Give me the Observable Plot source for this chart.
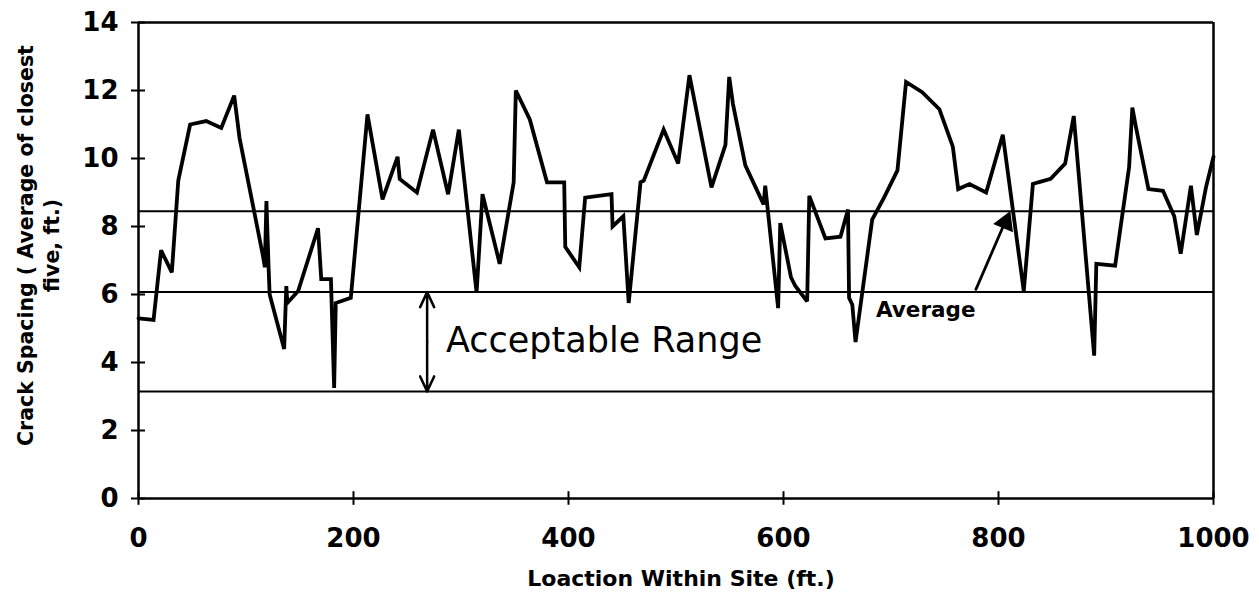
<!DOCTYPE html>
<html><head><meta charset="utf-8">
<script src="https://cdn.jsdelivr.net/npm/d3@7"></script>
<script src="https://cdn.jsdelivr.net/npm/@observablehq/plot@0.6"></script>
<style>body{margin:0;background:#fff} svg{display:block}</style>
</head><body><div id="chart"></div>
<script>
const locationFt = [0,14,21,31,37,48,63,77,89,94,116,117.5,119,121,122,135.5,137.5,138.5,148.5,167,170,179,182,183.5,197.5,213,227,241,243,259,274,288,298,314.5,320,336,349,351,364,380,396,397,410,415.5,440,441,451,456,467,470,488.5,502,512.5,533,546,549.5,553,564.5,581.5,583,595,597,607,611,622,624,639,653,660,661,664,667,682.5,693.5,706,714,729,745,757.5,762.5,773,788.5,804,823.5,832,837,848.5,862,870,889,891,908.5,921.5,924.5,928,939.5,953,963.5,969.5,979,984.5,993,1000];
const spacing = [5.3,5.25,7.3,6.65,9.35,11.0,11.1,10.9,11.85,10.6,7.1,6.8,8.75,6.8,6.0,4.4,6.25,5.75,6.1,7.95,6.45,6.45,3.25,5.75,5.9,11.3,8.8,10.05,9.4,9.0,10.85,8.95,10.85,6.05,8.95,6.9,9.3,12.0,11.15,9.3,9.3,7.4,6.8,8.85,8.95,8.0,8.3,5.75,9.3,9.35,10.85,9.85,12.45,9.15,10.4,12.4,11.6,9.8,8.65,9.2,5.6,8.1,6.5,6.25,5.8,8.9,7.65,7.7,8.5,5.9,5.7,4.6,8.2,8.85,9.65,12.25,11.95,11.45,10.35,9.1,9.25,9.0,10.7,6.1,9.25,9.3,9.4,9.85,11.25,4.2,6.9,6.85,9.75,11.5,10.9,9.1,9.05,8.3,7.2,9.2,7.75,9.15,10.05];
const xTicks = [0,200,400,600,800,1000];
const yTicks = [0,2,4,6,8,10,12,14];
const averageLine = 8.45;
const rangeUpper = 6.07;
const rangeLower = 3.15;

const data = locationFt.map((x, i) => ({x, y: spacing[i]}));
const bold = "DejaVu Sans";
const rangeMid = (rangeUpper + rangeLower) / 2;

const chart = Plot.plot({
  width: 1259,
  height: 604,
  marginLeft: 138,
  marginRight: 46,
  marginTop: 22,
  marginBottom: 106,
  style: {background: "#fff", color: "#000"},
  x: {domain: [0, 1000], axis: null},
  y: {domain: [0, 14], axis: null},
  marks: [
    Plot.axisY(yTicks, {tickSize: 0, tickPadding: 20, tickFormat: d => String(d), fontSize: 26, fontWeight: "bold", fontFamily: bold, label: null}),
    Plot.axisX(xTicks, {tickSize: 0, tickPadding: 30, tickFormat: d => String(d), fontSize: 26, fontWeight: "bold", fontFamily: bold, label: null}),
    Plot.ruleY(yTicks, {x1: -6.5, x2: 6.5, stroke: "#000", strokeWidth: 2}),
    Plot.ruleX(xTicks, {y1: -0.2, y2: 0.2, stroke: "#000", strokeWidth: 2}),
    Plot.ruleY([0, 14], {x1: 0, x2: 1000, stroke: "#000", strokeWidth: 2.5}),
    Plot.ruleX([0, 1000], {y1: 0, y2: 14, stroke: "#000", strokeWidth: 2.5}),
    Plot.ruleY([averageLine, rangeUpper, rangeLower], {x1: 0, x2: 1000, stroke: "#000", strokeWidth: 2}),
    Plot.line(data, {x: "x", y: "y", stroke: "#000", strokeWidth: 3.8, strokeLinejoin: "miter", strokeMiterlimit: 3}),
    Plot.arrow([rangeUpper, rangeLower], {x1: 268.5, x2: 268.5, y1: rangeMid, y2: d => d, stroke: "#000", strokeWidth: 2.5, headLength: 14, headAngle: 50}),
    Plot.text(["Acceptable Range"], {x: 286, y: 4.65, text: d => d, textAnchor: "start", fontSize: 35, fontFamily: "DejaVu Sans", fill: "#000"}),
    Plot.arrow([0], {x1: 779, y1: 6.15, x2: 805, y2: 8.05, stroke: "#000", strokeWidth: 2.8, headLength: 0}),
    Plot.dot([0], {x: 806.5, y: 8.12, symbol: "triangle", r: 8, rotate: 23, fill: "#000", stroke: "none"}),
    Plot.text(["Average"], {x: 686, y: 5.55, text: d => d, textAnchor: "start", fontSize: 21.5, fontWeight: "bold", fontFamily: bold, fill: "#000"}),
    Plot.text(["Crack Spacing ( Average of closest\nfive, ft.)"], {frameAnchor: "left", textAnchor: "middle", dx: -101, dy: -15, rotate: -90, text: d => d, lineHeight: 1.3, fontSize: 20.5, fontWeight: "bold", fontFamily: bold, fill: "#000"}),
    Plot.text(["Loaction Within Site (ft.)"], {frameAnchor: "bottom", dx: 5, dy: 87, text: d => d, fontSize: 22, fontWeight: "bold", fontFamily: bold, fill: "#000"})
  ]
});
document.getElementById("chart").append(chart);
</script>
</body></html>
